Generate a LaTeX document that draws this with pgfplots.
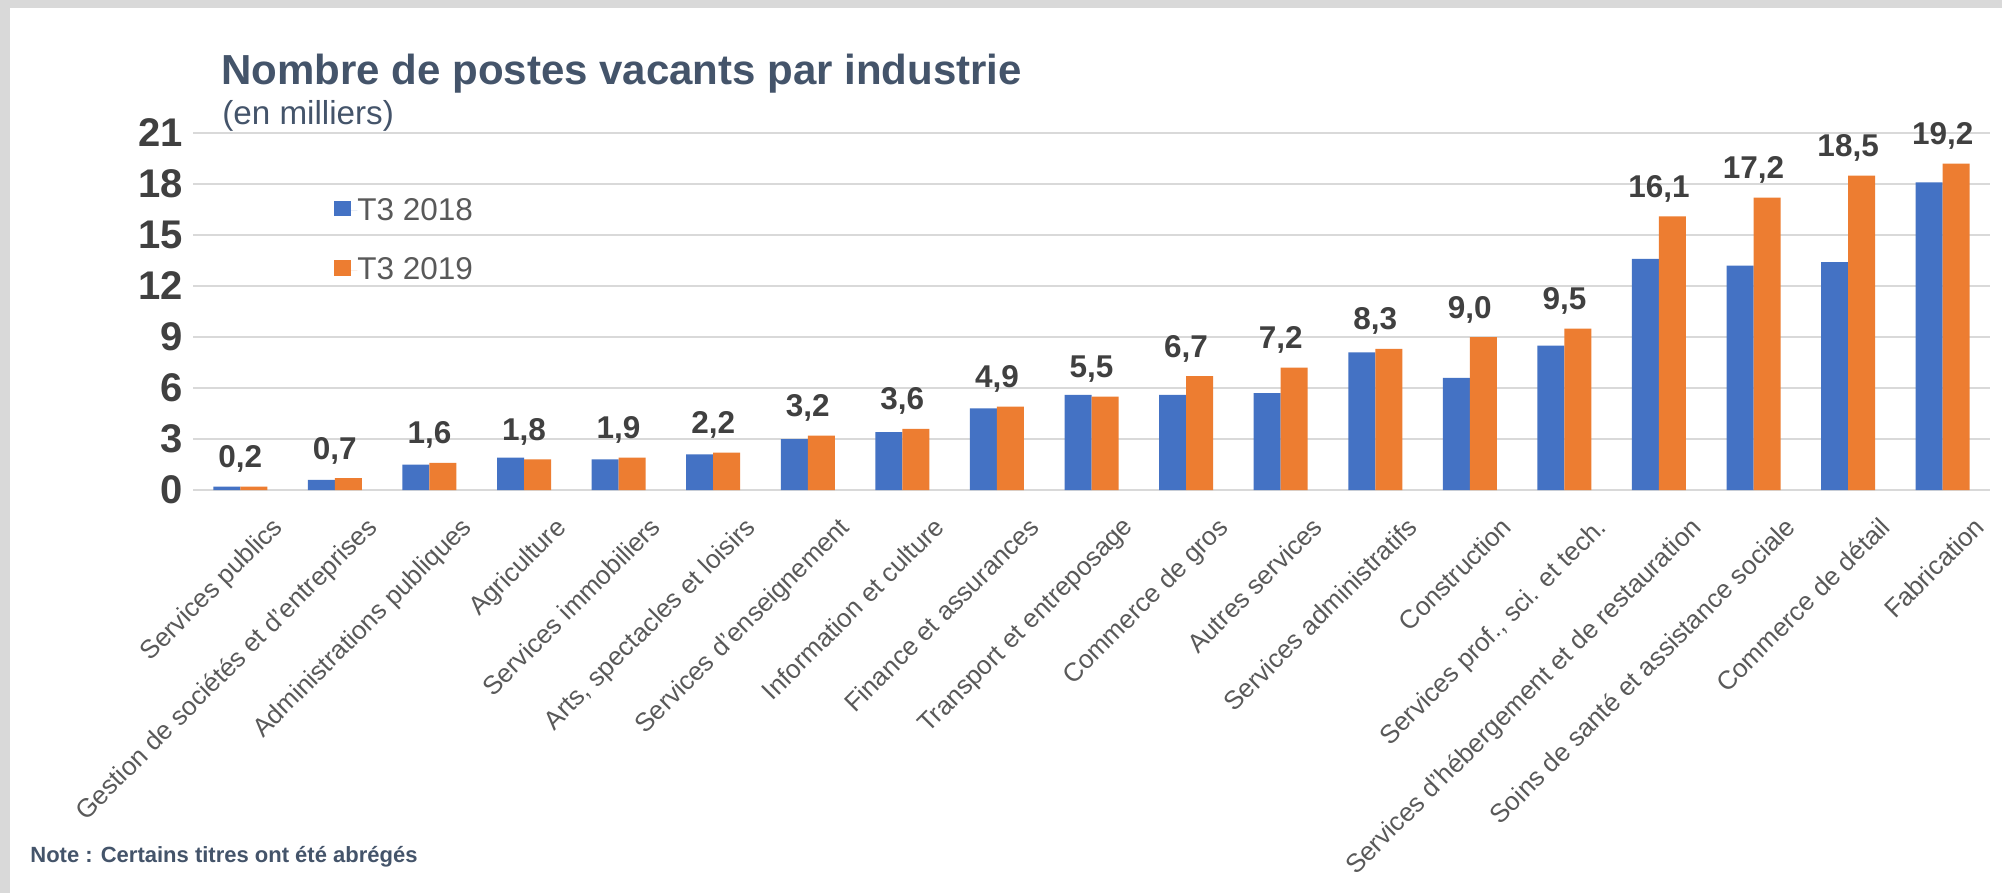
\documentclass[border=0pt]{standalone}
\usepackage{fontspec}
\setmainfont{Liberation Sans}
\usepackage{pgfplots}
\usepackage{pgfplotstable}
\pgfplotsset{compat=1.18}
\definecolor{bleu}{HTML}{4472C4}
\definecolor{orange}{HTML}{ED7D31}
\definecolor{titre}{HTML}{44546A}
\definecolor{foncé}{HTML}{404040}
\definecolor{gristexte}{HTML}{595959}
\definecolor{grille}{HTML}{D9D9D9}
\definecolor{fond}{HTML}{D9D9D9}

% valeurs en milliers, T3 2018 (a) et T3 2019 (b)
\pgfplotstableread{
x  a     b     lab
0  0.2   0.2   0,2
1  0.6   0.7   0,7
2  1.5   1.6   1,6
3  1.9   1.8   1,8
4  1.8   1.9   1,9
5  2.1   2.2   2,2
6  3.0   3.2   3,2
7  3.4   3.6   3,6
8  4.8   4.9   4,9
9  5.6   5.5   5,5
10 5.6   6.7   6,7
11 5.7   7.2   7,2
12 8.1   8.3   8,3
13 6.6   9.0   9,0
14 8.5   9.5   9,5
15 13.6  16.1  16,1
16 13.2  17.2  17,2
17 13.4  18.5  18,5
18 18.1  19.2  19,2
}\postes

\begin{document}
\begin{tikzpicture}
\useasboundingbox (0,0) rectangle (1001pt,-446.5pt);
\fill[fond] (0,0) rectangle (1001pt,-446.5pt);
\fill[white] (5pt,-4pt) rectangle (1001pt,-446.5pt);

\node[anchor=base west, inner sep=0pt, text=titre,
  font=\fontsize{21}{25}\selectfont\bfseries] at (110.5pt,-42.5pt)
  {Nombre de postes vacants par industrie};
\node[anchor=base west, inner sep=0pt, text=titre,
  font=\fontsize{16.6}{20}\selectfont] at (111pt,-62.5pt) {(en milliers)};
\node[anchor=base west, inner sep=0pt, text=titre,
  font=\fontsize{11}{14}\selectfont\bfseries] at (15pt,-431pt)
  {Note : Certains titres ont été abrégés};

\begin{axis}[
  at={(96.5pt,-245pt)}, anchor=south west,
  scale only axis, width=898.5pt, height=178.5pt,
  xmin=-0.5, xmax=18.5, ymin=0, ymax=21,
  ytick={0,3,...,21},
  xtick={0,...,18},
  xticklabels={Services publics,Gestion de sociétés et d'entreprises,Administrations publiques,Agriculture,Services immobiliers,{Arts, spectacles et loisirs},Services d'enseignement,Information et culture,Finance et assurances,Transport et entreposage,Commerce de gros,Autres services,Services administratifs,Construction,{Services prof., sci. et tech.},Services d'hébergement et de restauration,Soins de santé et assistance sociale,Commerce de détail,Fabrication},
  ybar=0pt, bar width=13.5pt,
  clip=false,
  axis line style={draw=none},
  major tick length=0pt,
  ymajorgrids, grid style={draw=grille, line width=1.1pt},
  /pgf/number format/assume math mode=true,
  yticklabel style={font=\fontsize{20}{24}\selectfont\bfseries, text=foncé, inner sep=0pt, xshift=-5pt},
  xticklabel style={font=\fontsize{13}{15}\selectfont, text=gristexte, inner sep=0pt,
    xshift=15pt, yshift=-12.5pt, rotate=45, anchor=north east},
  legend style={at={(axis cs:0.99,17.66)}, anchor=north west, draw=none, fill=none,
    inner sep=0pt, row sep=9.2pt, column sep=0pt,
    nodes={inner xsep=0pt, inner ysep=4pt},
    font=\fontsize{15.75}{19}\selectfont, text=gristexte},
  legend cell align=left,
]
\addplot[fill=bleu, draw=none,
  legend image code/.code={\fill[bleu] (0pt,-2.75pt) rectangle (8.5pt,5pt);
    \path (0pt,0pt) -- (11.5pt,0pt);}]
  table[x=x, y=a] {\postes};
\addlegendentry{T3 2018}
\addplot[fill=orange, draw=none,
  legend image code/.code={\fill[orange] (0pt,-2.75pt) rectangle (8.5pt,5pt);
    \path (0pt,0pt) -- (11.5pt,0pt);},
  nodes near coords, point meta=explicit symbolic,
  every node near coord/.style={font=\fontsize{15.75}{19}\selectfont\bfseries, text=foncé,
    anchor=base, inner sep=0pt, yshift=9.5pt}]
  table[x=x, y=b, meta=lab] {\postes};
\addlegendentry{T3 2019}
\end{axis}
\end{tikzpicture}
\end{document}
